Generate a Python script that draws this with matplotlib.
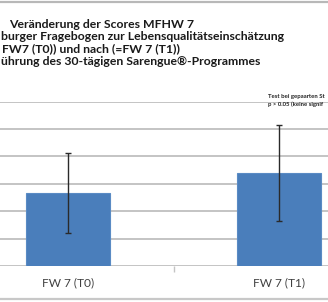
import matplotlib
matplotlib.use("Agg")
import matplotlib.pyplot as plt

# ── Data (y in gridline units; axis labels are cropped in the source) ────────
categories = ["FW 7 (T0)", "FW 7 (T1)"]
means      = [2.67, 3.40]
errors     = [1.46, 1.74]

title_vis  = ["Veränderung der Scores MFHW 7",
              "burger Fragebogen zur Lebensqualitätseinschätzung",
              "FW7 (T0)) und nach (=FW 7 (T1))",
              "ührung des 30-tägigen Sarengue®-Programmes"]
note_lines = ["Test bei gepaarten St",
              "p > 0.05 (keine signif"]

W, H = 328, 302
fig = plt.figure(figsize=(W / 100, H / 100), dpi=100)
fig.patch.set_facecolor("white")

# frame lines of the cropped slide
fig.add_artist(plt.Line2D([0, 1], [1 - 2 / H, 1 - 2 / H], color="#b8b8b8", lw=1.6))
fig.add_artist(plt.Line2D([0, 1], [1 - 299 / H, 1 - 299 / H], color="#c8c8c8", lw=1.6))

# ── Title block (left part cut off by the crop) ──────────────────────────────
title_x  = [9, 1, 2, 1]
title_y  = [24, 37, 49, 62]
for vis, x, y in zip(title_vis, title_x, title_y):
    fig.text(x / W, 1 - y / H, vis, ha="left", va="center",
             fontsize=8.8, fontweight="bold", family="Lato", color="#1a1a1a")

# ── Chart ────────────────────────────────────────────────────────────────────
left_px, right_px = -37.5, 384.5
top_px, base_px = 101.7, 266
ax = fig.add_axes([left_px / W, 1 - base_px / H,
                   (right_px - left_px) / W, (base_px - top_px) / H])
ax.set_xlim(-0.5, 1.5)
ax.set_ylim(0, 6)
ax.set_yticks(range(0, 7))
ax.yaxis.grid(True, color="#c4c4c4", lw=1.4)
ax.set_axisbelow(True)
for s in ax.spines.values():
    s.set_visible(False)
ax.tick_params(axis="y", left=False, labelleft=False)
ax.set_xticks([0.5], minor=True)
ax.tick_params(axis="x", which="minor", length=4, color="#c4c4c4", width=1)
ax.set_xticks(range(len(categories)))
ax.set_xticklabels(categories, fontsize=8.6, family="Lato", color="#404040")
ax.tick_params(axis="x", which="major", length=0, pad=8)

ax.bar(range(len(categories)), means, width=0.4, color="#4a7ebb",
       edgecolor="#5a8bc4", lw=0.8, zorder=2)
ax.errorbar(range(len(categories)), means, yerr=errors, fmt="none",
            ecolor="#2a2a2a", elinewidth=1.0, capsize=2.2, capthick=1.0, zorder=3)

for i, line in enumerate(note_lines):
    fig.text(268 / W, 1 - (96.5 + 7.5 * i) / H, line, ha="left", va="center",
             fontsize=4.3, fontweight="bold", family="Lato", color="#222222")

fig.savefig("out.png", dpi=100)
